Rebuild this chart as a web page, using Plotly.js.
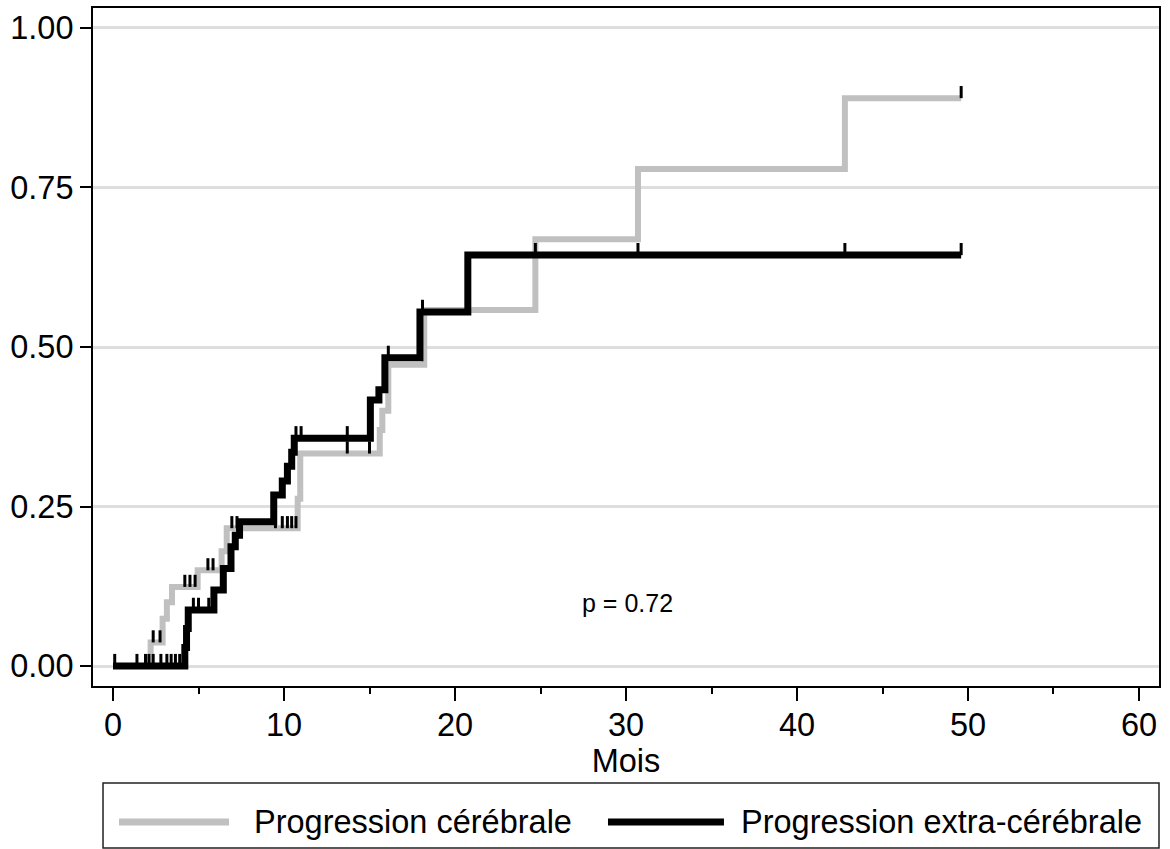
<!DOCTYPE html>
<html>
<head>
<meta charset="utf-8">
<script src="https://cdn.plot.ly/plotly-3.0.1.min.js"></script>
<style>html,body{margin:0;padding:0;background:#fff;}#chart{width:1170px;height:849px;}</style>
</head>
<body>
<div id="chart"></div>
<script>
// ---- data ----
const seriesNames = ['Progression cérébrale', 'Progression extra-cérébrale'];

// Progression cérébrale (grey): step times (months) and cumulative incidence
const greyTime = [0, 2.2, 2.9, 3.15, 3.45, 4.95, 6.35, 6.65, 10.8, 10.95, 15.6, 15.75, 16.1, 18.2, 24.7, 30.7, 42.8, 49.6];
const greyCum  = [0, 0.037, 0.074, 0.100, 0.124, 0.150, 0.180, 0.216, 0.262, 0.333, 0.370, 0.400, 0.472, 0.558, 0.669, 0.779, 0.890, 0.890];
const greyCensor = [2.35, 2.75, 4.2, 4.5, 4.8, 5.55, 5.85, 6.95, 7.25, 9.5, 9.9, 10.2, 10.45, 10.7, 13.7, 15.0, 49.6];

// Progression extra-cérébrale (black)
const blackTime = [0, 4.2, 4.3, 4.4, 5.9, 6.45, 6.9, 7.15, 7.4, 9.4, 9.9, 10.2, 10.45, 10.6, 15.05, 15.55, 15.9, 17.95, 20.75, 49.6];
const blackCum  = [0, 0.029, 0.059, 0.088, 0.119, 0.153, 0.187, 0.205, 0.226, 0.268, 0.290, 0.313, 0.335, 0.357, 0.417, 0.433, 0.483, 0.555, 0.644, 0.644];
const blackCensor = [0.1, 1.4, 1.9, 2.1, 2.35, 2.8, 3.15, 3.4, 3.65, 3.9, 4.7, 5.0, 5.6, 10.7, 11.0, 13.7, 15.0, 16.1, 18.1, 24.7, 30.7, 42.8, 49.6];

const xTickVals = [0, 10, 20, 30, 40, 50, 60];
const yTickVals = [0, 0.25, 0.5, 0.75, 1];
const yTickText = ['0.00', '0.25', '0.50', '0.75', '1.00'];
const pText = 'p = 0.72';
const xTitle = 'Mois';

// ---- helpers ----
function levelAt(times, cum, t) {
  let v = cum[0];
  for (let i = 0; i < times.length; i++) { if (times[i] <= t) v = cum[i]; }
  return v;
}

const FONT = 'Liberation Sans, Arial, Helvetica, sans-serif';
const FS = 32.5;
const GREY = '#c0c0c0';

const traces = [
  { x: greyTime, y: greyCum, type: 'scatter', mode: 'lines', line: { shape: 'hv', color: GREY, width: 6 }, name: seriesNames[0], hoverinfo: 'skip' },
  { x: blackTime, y: blackCum, type: 'scatter', mode: 'lines', line: { shape: 'hv', color: '#000', width: 7 }, name: seriesNames[1], hoverinfo: 'skip' },
  { x: greyCensor, y: greyCensor.map(t => levelAt(greyTime, greyCum, t)), type: 'scatter', mode: 'markers',
    marker: { size: 1, color: 'rgba(0,0,0,0)' }, hoverinfo: 'skip',
    error_y: { type: 'constant', symmetric: false, value: 0.019, valueminus: 0, width: 0, thickness: 3, color: '#000' } },
  { x: blackCensor, y: blackCensor.map(t => levelAt(blackTime, blackCum, t)), type: 'scatter', mode: 'markers',
    marker: { size: 1, color: 'rgba(0,0,0,0)' }, hoverinfo: 'skip',
    error_y: { type: 'constant', symmetric: false, value: 0.019, valueminus: 0, width: 0, thickness: 3, color: '#000' } }
];

const legY = -0.2006;
const layout = {
  width: 1170, height: 849,
  margin: { l: 93, r: 11, t: 8, b: 163 },
  paper_bgcolor: '#fff', plot_bgcolor: '#fff',
  showlegend: false,
  font: { family: FONT, color: '#000', size: FS },
  xaxis: {
    range: [-1.17, 61.17], tickvals: xTickVals, ticks: 'outside', ticklen: 13, tickwidth: 2, tickcolor: '#000',
    showline: true, linecolor: '#000', linewidth: 2, mirror: true, showgrid: false, zeroline: false,
    tickfont: { size: FS, family: FONT }, ticklabelstandoff: -4,
    minor: { dtick: 5, tick0: 0, ticks: 'outside', ticklen: 6, tickwidth: 2, tickcolor: '#000', showgrid: false },
    title: { text: xTitle, font: { size: FS, family: FONT }, standoff: 0 }
  },
  yaxis: {
    range: [-0.0313, 1.0313], tickvals: yTickVals, ticktext: yTickText, ticks: 'outside', ticklen: 11, tickwidth: 2, tickcolor: '#000',
    showline: true, linecolor: '#000', linewidth: 2, mirror: true, showgrid: true, gridcolor: '#dedede', gridwidth: 3, zeroline: false,
    tickfont: { size: FS, family: FONT }
  },
  annotations: [
    { x: 30.1, y: 0.099, xref: 'x', yref: 'y', text: pText, showarrow: false, font: { size: 25, family: FONT }, xanchor: 'center', yanchor: 'middle' },
    { x: 0.149, y: legY, xref: 'paper', yref: 'paper', text: seriesNames[0], showarrow: false, font: { size: FS, family: FONT }, xanchor: 'left', yanchor: 'middle' },
    { x: 0.606, y: legY, xref: 'paper', yref: 'paper', text: seriesNames[1], showarrow: false, font: { size: FS, family: FONT }, xanchor: 'left', yanchor: 'middle' }
  ],
  shapes: [
    { type: 'rect', xref: 'paper', yref: 'paper', x0: 0.0094, x1: 1.0, y0: -0.239, y1: -0.1431, line: { color: '#222', width: 1.5 }, fillcolor: 'rgba(0,0,0,0)' },
    { type: 'line', xref: 'paper', yref: 'paper', x0: 0.0244, x1: 0.1276, y0: legY, y1: legY, line: { color: GREY, width: 7 } },
    { type: 'line', xref: 'paper', yref: 'paper', x0: 0.4831, x1: 0.5919, y0: legY, y1: legY, line: { color: '#000', width: 7 } }
  ]
};

Plotly.newPlot('chart', traces, layout, { staticPlot: true, displayModeBar: false });
</script>
</body>
</html>
